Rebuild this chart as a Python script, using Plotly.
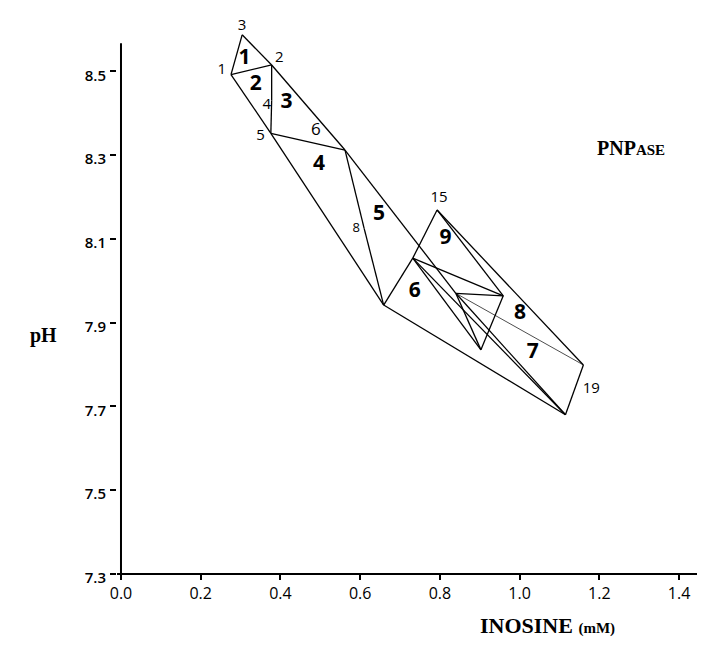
import plotly.graph_objects as go

# ---- data ----
# simplex vertices (inosine mM, pH)
vertex_names = ["V1", "V2", "V3", "V4", "V5", "V6", "V7", "V8", "V15",
                "VL", "VI", "VR", "VB", "V19", "VBot"]
vertex_x = [0.276, 0.378, 0.304, 0.378, 0.376, 0.562, 0.659, 0.610, 0.793,
            0.732, 0.840, 0.959, 0.903, 1.160, 1.115]
vertex_y = [8.492, 8.515, 8.587, 8.430, 8.352, 8.312, 7.942, 8.125, 8.169,
            8.054, 7.970, 7.964, 7.835, 7.799, 7.680]

# edges of the simplexes
edges = [("V3", "V1"), ("V3", "V2"), ("V2", "V6"), ("V6", "VI"),
         ("V1", "V2"), ("V2", "V4"), ("V4", "V5"), ("V1", "V5"), ("V5", "V7"),
         ("V5", "V6"), ("V6", "V8"), ("V8", "V7"), ("V7", "VL"), ("VL", "V15"),
         ("V15", "VR"), ("V15", "V19"), ("V19", "VBot"), ("V7", "VBot"),
         ("VI", "VR"), ("VR", "VB"), ("VI", "VB"), ("VL", "VR"), ("VL", "VB"),
         ("VL", "VBot"), ("VI", "VBot")]
thin_edges = [("VI", "V19")]

# small vertex numbers
vlabel_text = ["3", "1", "2", "4", "5", "6", "8", "15", "19"]
vlabel_x = [0.304, 0.253, 0.397, 0.366, 0.350, 0.489, 0.590, 0.798, 1.180]
vlabel_y = [8.607, 8.503, 8.531, 8.420, 8.346, 8.358, 8.124, 8.197, 7.740]
vlabel_size = [15, 15, 15, 15, 15, 17, 13, 15, 15]

# simplex numbers (bold)
slabel_text = ["1", "2", "3", "4", "5", "6", "7", "8", "9"]
slabel_x = [0.310, 0.338, 0.415, 0.497, 0.647, 0.737, 1.033, 1.001, 0.814]
slabel_y = [8.531, 8.469, 8.424, 8.276, 8.157, 7.974, 7.827, 7.922, 8.101]

x_ticks = [0.0, 0.2, 0.4, 0.6, 0.8, 1.0, 1.2, 1.4]
x_tick_text = ["0.0", "0.2", "0.4", "0.6", "0.8", "1.0", "1.2", "1.4"]
y_ticks = [7.3, 7.5, 7.7, 7.9, 8.1, 8.3, 8.5]
y_tick_text = ["7.3", "7.5", "7.7", "7.9", "8.1", "8.3", "8.5"]

pos = {n: (x, y) for n, x, y in zip(vertex_names, vertex_x, vertex_y)}


def seg_xy(edge_list):
    xs, ys = [], []
    for a, b in edge_list:
        xs += [pos[a][0], pos[b][0], None]
        ys += [pos[a][1], pos[b][1], None]
    return xs, ys


fig = go.Figure()
ex, ey = seg_xy(edges)
fig.add_trace(go.Scatter(x=ex, y=ey, mode="lines",
                         line=dict(color="black", width=1.3),
                         hoverinfo="skip", showlegend=False))
tx, ty = seg_xy(thin_edges)
fig.add_trace(go.Scatter(x=tx, y=ty, mode="lines",
                         line=dict(color="black", width=0.7),
                         hoverinfo="skip", showlegend=False))
fig.add_trace(go.Scatter(x=vlabel_x, y=vlabel_y, mode="text", text=vlabel_text,
                         textfont=dict(family="Open Sans", size=vlabel_size, color="black"),
                         cliponaxis=False, hoverinfo="skip", showlegend=False))
fig.add_trace(go.Scatter(x=slabel_x, y=slabel_y, mode="text", text=slabel_text,
                         textfont=dict(family="Open Sans", size=21, color="black",
                                       weight="bold"),
                         cliponaxis=False, hoverinfo="skip", showlegend=False))

# axis lines: y stops near 8.57, x runs on to the right edge
fig.add_shape(type="line", xref="x", yref="y", x0=0, x1=0, y0=7.285, y1=8.567,
              line=dict(color="black", width=2))
fig.add_shape(type="line", xref="paper", yref="paper", x0=0, x1=1.03, y0=0, y1=0,
              line=dict(color="black", width=2))

fig.update_layout(
    width=705, height=649,
    margin=dict(l=109, r=22, t=13, b=83),
    paper_bgcolor="white", plot_bgcolor="white",
    xaxis=dict(range=[-0.01, 1.43], tickvals=x_ticks, ticktext=x_tick_text,
               showgrid=False, zeroline=False, showline=False,
               ticks="outside", ticklen=5,
               tickcolor="black", tickwidth=1.5,
               tickfont=dict(family="Open Sans", size=16, color="black")),
    yaxis=dict(range=[7.3, 8.62], tickvals=y_ticks, ticktext=y_tick_text,
               showgrid=False, zeroline=False, showline=False,
               ticks="outside", ticklen=6, tickcolor="black", tickwidth=1.5,
               ticklabelshift=4, ticklabelstandoff=1,
               tickfont=dict(family="Open Sans", size=15, color="black", weight=600)),
    annotations=[
        dict(text="<b>pH</b>", xref="paper", yref="y", x=-0.155, y=7.87,
             showarrow=False, font=dict(family="Liberation Serif", size=20, color="black")),
        dict(text="<b>INOSINE</b> <b><span style='font-size:15px'>(mM)</span></b>",
             xref="x", yref="paper", x=1.07, y=-0.12, showarrow=False,
             font=dict(family="Liberation Serif", size=22, color="black")),
        dict(text="<b>PNP<span style='font-size:15px'>ASE</span></b>",
             xref="x", yref="y", x=1.28, y=8.316, showarrow=False,
             font=dict(family="Liberation Serif", size=20, color="black")),
    ],
)

fig.write_html("out.html")
